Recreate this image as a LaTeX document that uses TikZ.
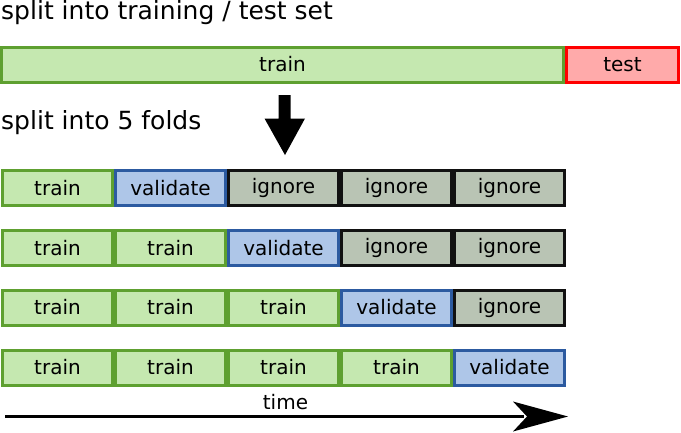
\documentclass[tikz,border=0pt]{standalone}
\usepackage{fontspec}
\setmainfont{DejaVu Sans}
\definecolor{trainfill}{HTML}{C5E8B0}
\definecolor{traindraw}{HTML}{5EA030}
\definecolor{valfill}{HTML}{AEC6E8}
\definecolor{valdraw}{HTML}{2C5AA0}
\definecolor{ignfill}{HTML}{B9C4B4}
\definecolor{igndraw}{HTML}{111111}
\definecolor{testfill}{HTML}{FFAAAA}
\definecolor{testdraw}{HTML}{FF0000}
\begin{document}
\begin{tikzpicture}[x=1pt,y=-1pt,
  cell/.style={rectangle, line width=3pt, inner sep=0pt,
    minimum width=110pt, minimum height=35pt,
    font=\fontsize{20}{24}\selectfont},
  trainbox/.style={cell, draw=traindraw, fill=trainfill},
  valbox/.style={cell, draw=valdraw, fill=valfill},
  ignbox/.style={cell, draw=igndraw, fill=ignfill},
  testbox/.style={cell, draw=testdraw, fill=testfill},
  heading/.style={anchor=base west, inner sep=0pt,
    font=\fontsize{25}{30}\selectfont},
  label/.style={anchor=base, inner sep=0pt,
    font=\fontsize{20}{24}\selectfont}]
\useasboundingbox (0,0) rectangle (681,432);

% training / test split
\node[heading] (h1) at (1,19) {split into training / test set};
\node[trainbox, minimum width=562pt] (tr) at (282.5,64.5) {train};
\node[testbox, minimum width=112pt] (te) at (622.5,64.5) {test};

% down arrow between the two stages
\fill (278.5,95) -- (290.5,95) -- (290.5,118.5) -- (305,118.5)
  -- (285,155) -- (264.5,118.5) -- (278.5,118.5) -- cycle;

\node[heading] (h2) at (1,129) {split into 5 folds};

% five folds, one row each
\foreach \r/\y/\list in {
  1/188/{train,validate,ignore,ignore,ignore},
  2/248/{train,train,validate,ignore,ignore},
  3/307.5/{train,train,train,validate,ignore},
  4/367.5/{train,train,train,train,validate}}{
  \foreach \kind [count=\c] in \list {
    \ifx\kind\empty\else\fi
    \def\sty{trainbox}
    \def\tmpv{validate}\ifx\kind\tmpv\def\sty{valbox}\fi
    \def\tmpi{ignore}\ifx\kind\tmpi\def\sty{ignbox}\fi
    \node[\sty] (r\r c\c) at ({57.5+113*(\c-1)},\y) {\kind};
  }
}

% time axis
\coordinate (t0) at (5,416.5);
\coordinate (t1) at (524,416.5);
\draw[line width=3pt] (t0) -- (t1);
\fill (568,416.5) -- (513,401.5) -- (527,416.5) -- (513,431.5) -- cycle;
\node[label] (tl) at (285.5,409) {time};
\end{tikzpicture}
\end{document}
